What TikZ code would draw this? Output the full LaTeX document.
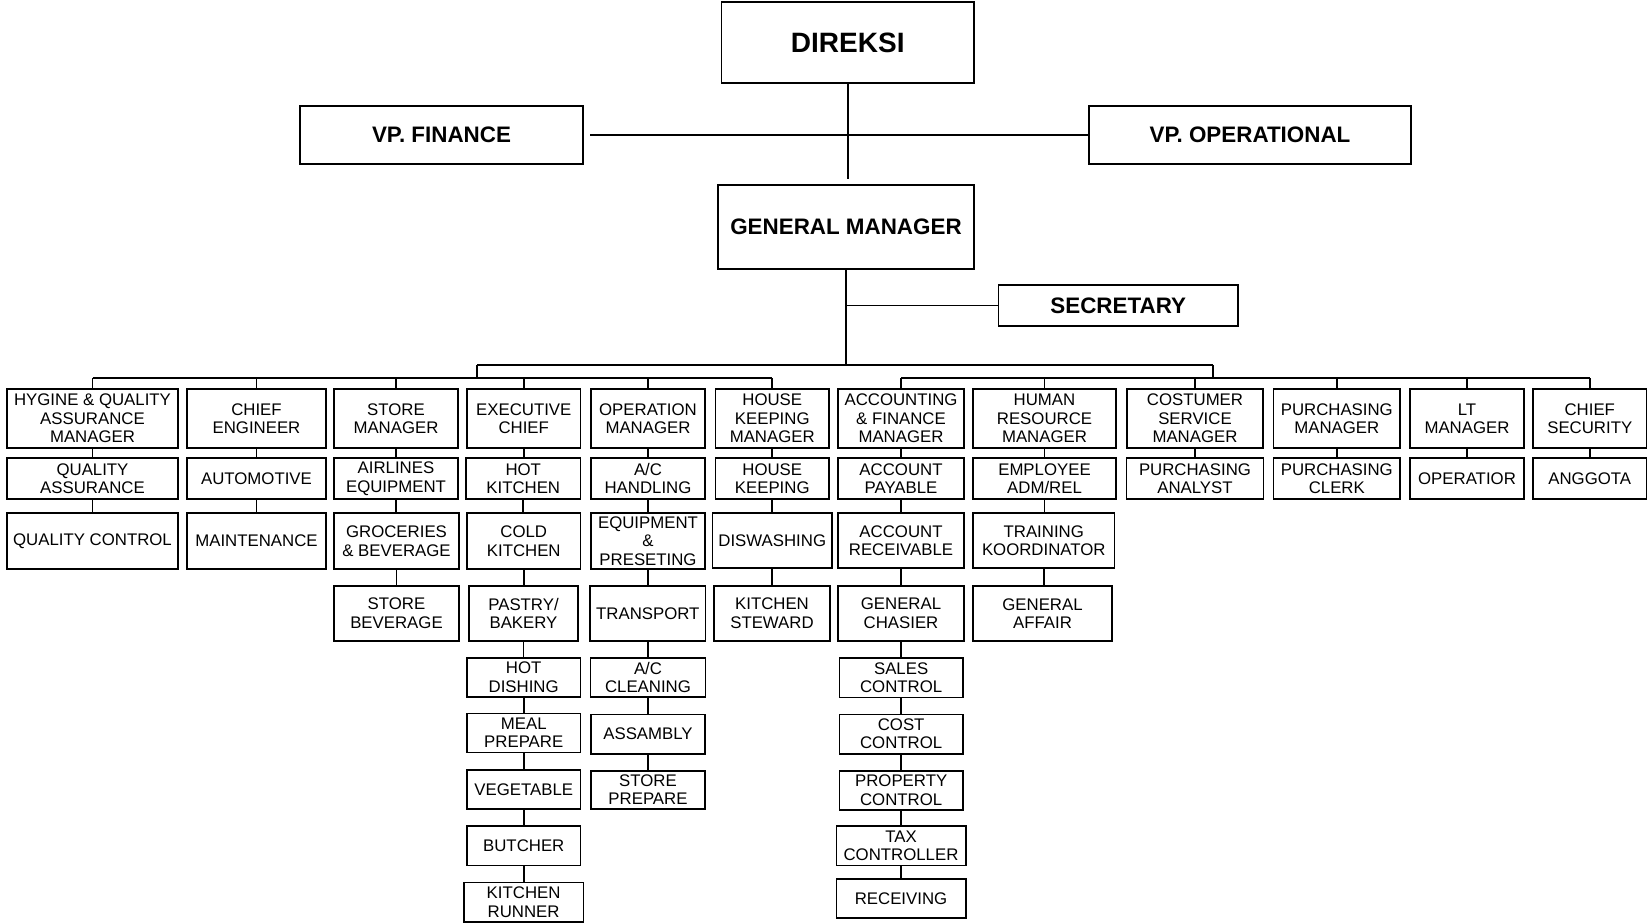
\documentclass[tikz,border=0pt]{standalone}
\usepackage{fontspec}
\setmainfont{Liberation Sans}
\tikzset{
  box/.style={draw, line width=0.8pt, align=center, inner sep=0.5pt,
    font=\fontsize{8.4}{9.15}\selectfont},
  bigbox/.style={box, font=\fontsize{11.2}{13}\selectfont\bfseries},
  topbox/.style={box, font=\fontsize{14}{16}\selectfont\bfseries},
  conn/.style={line width=0.85pt}
}
\newcommand\bx[7][box]{%
  \pgfmathsetmacro\bxw{(#5-#3)*0.5}%
  \pgfmathsetmacro\bxh{(#6-#4)*0.5}%
  \node[#1, minimum width=\bxw pt, minimum height=\bxh pt] (#2) at ({(#3+#5)/2},{(#4+#6)/2}) {#7};}
\begin{document}
\begin{tikzpicture}[x=0.5pt,y=-0.5pt]
\useasboundingbox (0,0) rectangle (1648,924);
% top
\bx[topbox]{dir}{721.5}{2}{974}{83}{DIREKSI}
\bx[bigbox]{vpf}{300}{106}{583}{164}{VP. FINANCE}
\bx[bigbox]{vpo}{1089}{106}{1411}{164}{VP. OPERATIONAL}
\bx[bigbox]{gm}{718}{185}{974}{269}{GENERAL MANAGER}
\bx[bigbox]{sec}{998.5}{285}{1238}{326}{SECRETARY}
% row 1
\bx{hyg}{7}{389}{178}{448}{HYGINE \& QUALITY\\ASSURANCE\\MANAGER}
\bx{ce}{187}{389}{326}{448}{CHIEF\\ENGINEER}
\bx{sm}{334}{389}{458}{448}{STORE\\MANAGER}
\bx{ec}{467}{389}{580.5}{448}{EXECUTIVE\\CHIEF}
\bx{om}{591}{389}{705}{448}{OPERATION\\MANAGER}
\bx{hkm}{715.5}{389}{829}{448}{HOUSE\\KEEPING\\MANAGER}
\bx{afm}{838}{389}{964}{448}{ACCOUNTING\\\& FINANCE\\MANAGER}
\bx{hr}{973}{389}{1116}{448}{HUMAN\\RESOURCE\\MANAGER}
\bx{cs}{1127}{389}{1263}{448}{COSTUMER\\SERVICE\\MANAGER}
\bx{pm}{1273.6}{389}{1400}{448}{PURCHASING\\MANAGER}
\bx{lt}{1410}{389}{1524}{448}{LT\\MANAGER}
\bx{csec}{1533}{389}{1646.5}{448}{CHIEF\\SECURITY}
% row 2
\bx{qa}{7}{458.3}{178}{499.3}{QUALITY\\ASSURANCE}
\bx{auto}{187}{458.3}{326}{499.3}{AUTOMOTIVE}
\bx{air}{334}{458.3}{458}{499.3}{AIRLINES\\EQUIPMENT}
\bx{hk1}{466}{458.3}{580.5}{499.3}{HOT\\KITCHEN}
\bx{ach}{591}{458.3}{705}{499.3}{A/C\\HANDLING}
\bx{hk}{715.5}{458.3}{829}{499.3}{HOUSE\\KEEPING}
\bx{ap}{838}{458.3}{964}{499.3}{ACCOUNT\\PAYABLE}
\bx{emp}{973}{458.3}{1116}{499.3}{EMPLOYEE\\ADM/REL}
\bx{pa}{1126.4}{458.3}{1263.6}{499.3}{PURCHASING\\ANALYST}
\bx{pc}{1273.6}{458.3}{1400}{499.3}{PURCHASING\\CLERK}
\bx{opr}{1410}{458.3}{1524}{499.3}{OPERATIOR}
\bx{ang}{1533}{458.3}{1646.5}{499.3}{ANGGOTA}
% row 3
\bx{qc}{7}{513.3}{178}{569}{QUALITY CONTROL}
\bx{mnt}{187}{513.3}{326}{569}{MAINTENANCE}
\bx{gro}{334}{513.3}{459}{569}{GROCERIES\\\& BEVERAGE}
\bx{ck}{467}{513.3}{580.5}{569}{COLD\\KITCHEN}
\bx{eq}{591}{513.3}{705}{569}{EQUIPMENT\\\&\\PRESETING}
\bx{dw}{712.5}{513.3}{832}{568}{DISWASHING}
\bx{ar}{838}{513.3}{964}{568}{ACCOUNT\\RECEIVABLE}
\bx{tr}{973}{513.3}{1114.5}{568}{TRAINING\\KOORDINATOR}
% row 4
\bx{sb}{334}{585.7}{459}{641}{STORE\\BEVERAGE}
\bx{pas}{469}{585.7}{578}{641}{PASTRY/\\BAKERY}
\bx{trn}{590}{585.7}{705.6}{641}{TRANSPORT}
\bx{ks}{714}{585.7}{830}{641}{KITCHEN\\STEWARD}
\bx{gc}{838}{585.7}{964}{641}{GENERAL\\CHASIER}
\bx{ga}{973}{585.7}{1112}{641}{GENERAL\\AFFAIR}
% row 5
\bx{hd}{466.8}{657.7}{580.5}{697}{HOT\\DISHING}
\bx{acc}{590.4}{657.7}{705.6}{697}{A/C\\CLEANING}
\bx{sc}{839.3}{657.7}{963}{697.3}{SALES\\CONTROL}
% row 6
\bx{mp}{467}{713.3}{580.5}{752.3}{MEAL\\PREPARE}
\bx{asm}{591}{714.3}{705}{753.7}{ASSAMBLY}
\bx{cc}{839.3}{714.3}{963}{753.7}{COST\\CONTROL}
% row 7
\bx{veg}{467}{769.7}{580.5}{809}{VEGETABLE}
\bx{spr}{591}{770.7}{705}{809}{STORE\\PREPARE}
\bx{prc}{839.3}{770.7}{963}{810}{PROPERTY\\CONTROL}
% row 8
\bx{but}{467}{826}{580.5}{865.3}{BUTCHER}
\bx{tax}{836.3}{826}{965.7}{865.3}{TAX\\CONTROLLER}
% row 9
\bx{kr}{463.7}{882.3}{583.5}{922}{KITCHEN\\RUNNER}
\bx{rec}{836.3}{878.7}{965.7}{918}{RECEIVING}
% bus coordinates
\coordinate (topbar) at (847,365);
\coordinate (lbus) at (477,378);
\coordinate (rbus) at (1213,378);
\coordinate (vpline) at (590,135);
% top connectors
\draw[conn] (dir.south) -- ([yshift=2.5pt]dir.south |- gm.north);
\draw[conn] (vpline) -- (vpo.west);
\draw[conn] (gm.south) -- (gm.south |- topbar);
\draw[conn] (gm.south |- sec.west) -- (sec.west);
\draw[conn] (lbus |- topbar) -- (rbus |- topbar);
\draw[conn] (lbus |- topbar) -- (lbus);
\draw[conn] (rbus |- topbar) -- (rbus);
\draw[conn] (hyg.north |- lbus) -- (hkm.north |- lbus);
\draw[conn] (afm.north |- rbus) -- (csec.north |- rbus);
\foreach \n in {hyg,ce,sm,ec,om,hkm,afm,hr,cs,pm,lt,csec}
  \draw[conn] (\n.north) -- (\n.north |- lbus);
% chains
\foreach \a/\b in {hyg/qa,qa/qc,ce/auto,auto/mnt,sm/air,air/gro,gro/sb,
  ec/hk1,hk1/ck,ck/pas,pas/hd,hd/mp,mp/veg,veg/but,but/kr,
  om/ach,ach/eq,eq/trn,trn/acc,acc/asm,asm/spr,
  hkm/hk,hk/dw,dw/ks,
  afm/ap,ap/ar,ar/gc,gc/sc,sc/cc,cc/prc,prc/tax,tax/rec,
  hr/emp,emp/tr,tr/ga,cs/pa,pm/pc,lt/opr,csec/ang}
  \draw[conn] (\a.south) -- (\a.south |- \b.north);
\end{tikzpicture}
\end{document}
